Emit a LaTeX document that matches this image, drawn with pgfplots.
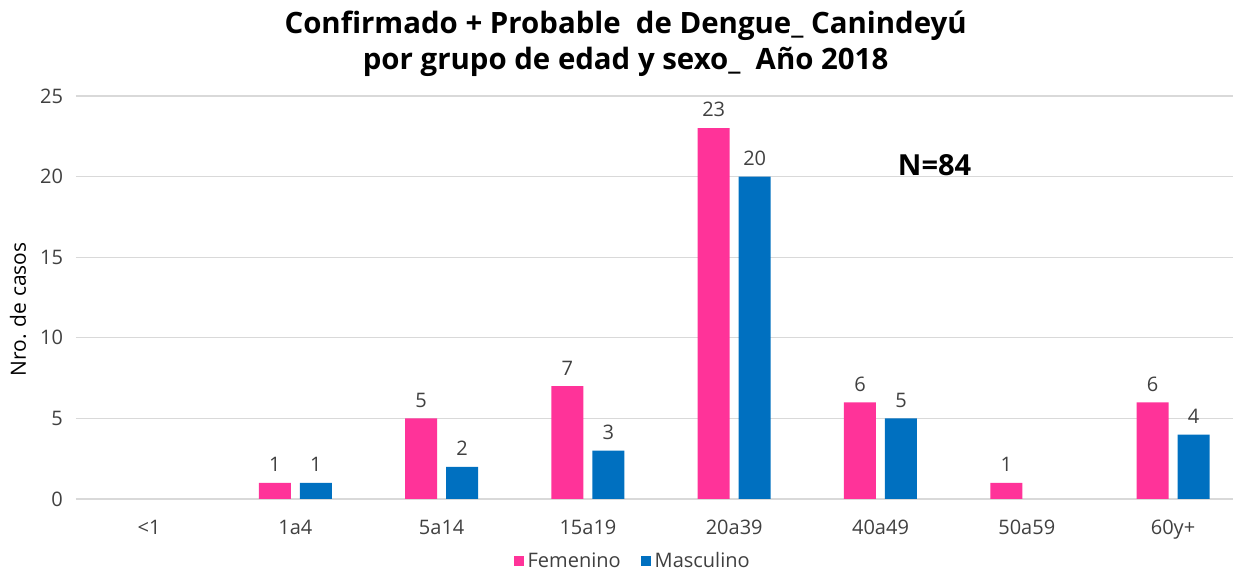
\documentclass[border=0pt]{standalone}
\usepackage{fontspec}
\setmainfont{Open Sans}
\usepackage{pgfplots}
\pgfplotsset{compat=1.18}
\definecolor{rosa}{RGB}{255,51,153}
\definecolor{azul}{RGB}{0,112,192}
\definecolor{grilla}{RGB}{217,217,217}
\definecolor{texto}{RGB}{64,64,64}
\begin{document}
\begin{tikzpicture}
\useasboundingbox (0,0) rectangle (616.5pt,285.5pt);
\begin{axis}[
  at={(38pt,36pt)}, anchor=south west,
  scale only axis,
  width=578.5pt, height=201.5pt,
  ybar=4.5pt, bar width=16pt,
  xmin=-0.5, xmax=7.41,
  ymin=0, ymax=25,
  xtick={0,...,7},
  xticklabels={<1,1a4,5a14,15a19,20a39,40a49,50a59,60y+},
  ytick={0,5,...,25},
  axis line style={draw=none},
  major tick length=0pt,
  ymajorgrids, grid style={grilla, line width=0.6pt},
  tick label style={font=\fontsize{10}{12}\selectfont, text=texto},
  /pgf/number format/assume math mode=true,
  xticklabel style={yshift=-7pt},
  yticklabel style={xshift=-3pt},
  ylabel={Nro. de casos},
  ylabel style={font=\fontsize{10.5}{12}\selectfont, text=black, anchor=center,
    at={(axis description cs:-0.05,0.47)}},
  nodes near coords,
  every node near coord/.append style={font=\fontsize{10}{12}\selectfont, text=texto, yshift=2pt},
  legend style={at={(0.482,-0.155)}, anchor=center, draw=none, legend columns=2,
    font=\fontsize{10}{12}\selectfont, text=texto,
    /tikz/every even column/.append style={column sep=8pt}},
  legend image code/.code={\fill[#1] (0pt,-2.5pt) rectangle (5pt,2.5pt);},
  title={Confirmado + Probable\ \ de Dengue\_ Canindeyú\\por grupo de edad y sexo\_\ \ Año 2018},
  title style={font=\bfseries\fontsize{14.7}{18}\selectfont, align=center,
    at={(axis description cs:0.475,1.0)}, anchor=south},
]
\addplot[fill=rosa, draw=none] coordinates {(1,1) (2,5) (3,7) (4,23) (5,6) (6,1) (7,6)};
\addplot[fill=azul, draw=none] coordinates {(1,1) (2,2) (3,3) (4,20) (5,5) (7,4)};
\legend{Femenino, Masculino}
\node[font=\bfseries\fontsize{14.5}{16}\selectfont] at (axis cs:5.37,20.7) {N=84};
\end{axis}
\end{tikzpicture}
\end{document}
